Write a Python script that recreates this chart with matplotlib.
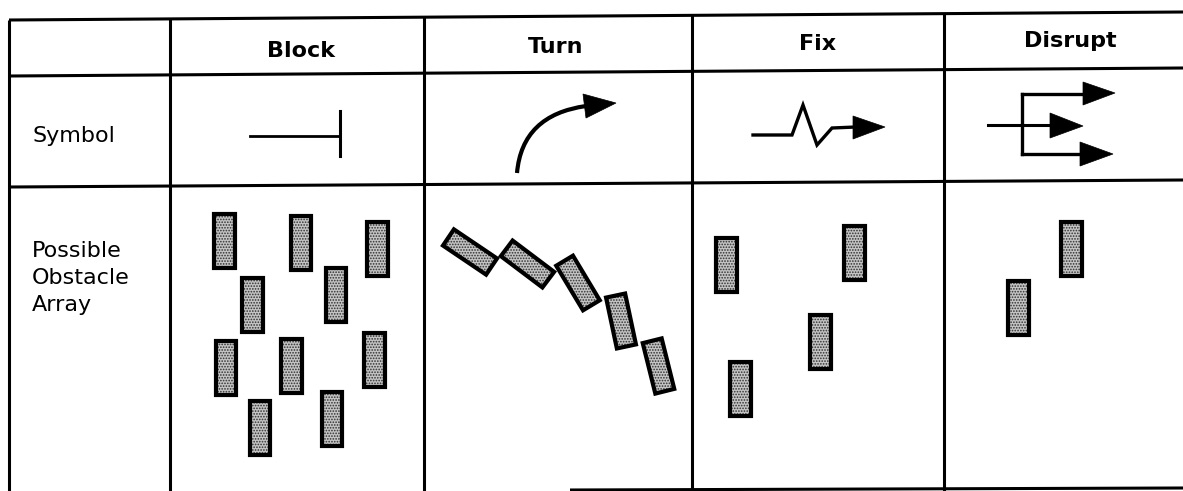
"""Obstacle-array table: Block / Turn / Fix / Disrupt, symbol + example layout."""
import numpy as np
import matplotlib
matplotlib.use("Agg")
import matplotlib.pyplot as plt
from matplotlib.patches import Polygon, PathPatch
from matplotlib.path import Path

# --- content -------------------------------------------------------------
columns = ["Block", "Turn", "Fix", "Disrupt"]
header_x = [301, 556, 818, 1070]
header_base = [57, 53, 50, 47]
row_labels = ["Symbol", "Possible\nObstacle\nArray"]

# obstacle centres (px) and long-axis angle from horizontal (deg, y down)
block_rects = [(224.5, 241), (301, 242.5), (377.5, 248.5), (252.5, 305), (336, 295),
               (226, 368), (291.5, 366), (374.5, 360), (260, 428), (332, 419)]
turn_rects = [(470, 252, 34), (527.5, 264, 37), (578, 283, 59), (621, 321, 78), (658.5, 366, 76)]
fix_rects = [(726.5, 265), (854.5, 252.5), (820.5, 341.5), (740.5, 389)]
disrupt_rects = [(1018.5, 307.5), (1071.5, 248.5)]

# table rules: (x0, y0, x1, y1)
h_rules = [(9, 20, 1183, 12), (9, 76, 1183, 68), (9, 187, 1183, 180), (570, 490, 1183, 488)]
v_rules = [9, 170, 424, 692, 944]

# symbol geometry
fix_zigzag_x = [753, 792, 803, 817, 832, 856]
fix_zigzag_y = [135, 135, 105, 145, 128, 127]

plt.rcParams["hatch.linewidth"] = 0.8

fig = plt.figure(figsize=(11.83, 4.91), dpi=100)
ax = fig.add_axes([0, 0, 1, 1])
ax.set_xlim(0, 1183)
ax.set_ylim(491, 0)
ax.axis("off")

LW = 2.2
for x0, y0, x1, y1 in h_rules:
    ax.plot([x0, x1], [y0, y1], color="black", lw=LW, solid_capstyle="butt")
for x in v_rules:
    ax.plot([x, x], [20 - (x - 9) * 8 / 1174, 491], color="black", lw=LW,
            solid_capstyle="butt")

font = "DejaVu Sans"
for name, x, yb in zip(columns, header_x, header_base):
    ax.text(x, yb, name, ha="center", va="baseline", fontsize=16,
            fontweight="bold", family=font)
ax.text(32, 142, row_labels[0], ha="left", va="baseline", fontsize=16, family=font)
ax.text(32, 241, row_labels[1], ha="left", va="top", fontsize=16, family=font,
        linespacing=1.45, multialignment="left")


def arrowhead(tip, base_top, base_bot):
    ax.add_patch(Polygon([tip, base_top, base_bot], closed=True,
                         facecolor="black", edgecolor="black", lw=0.5))


# Block symbol
ax.plot([250, 340], [136, 136], color="black", lw=2.0)
ax.plot([340, 340], [111, 156], color="black", lw=2.2)

# Turn symbol: curved arrow
curve = Path([(517, 173), (522, 115), (586, 106)], [Path.MOVETO, Path.CURVE3, Path.CURVE3])
ax.add_patch(PathPatch(curve, facecolor="none", edgecolor="black", lw=3.0))
arrowhead((616, 103), (583, 94), (586, 118))

# Fix symbol: zigzag arrow
ax.plot(fix_zigzag_x, fix_zigzag_y, color="black", lw=2.4, solid_joinstyle="miter")
arrowhead((885, 127), (853, 116), (853, 139))

# Disrupt symbol: branching arrows
ax.plot([988, 1052], [125, 125], color="black", lw=2.2)
ax.plot([1022, 1022], [94, 154], color="black", lw=2.4)
ax.plot([1022, 1085], [94, 94], color="black", lw=2.4)
ax.plot([1022, 1082], [154, 154], color="black", lw=2.4)
arrowhead((1115, 93), (1083, 82), (1083, 105))
arrowhead((1083, 126), (1050, 113), (1050, 138))
arrowhead((1113, 154), (1080, 142), (1080, 166))


def obstacle(cx, cy, angle=90.0, length=54.0, width=20.5):
    t = np.deg2rad(angle)
    u = np.array([np.cos(t), np.sin(t)]) * length / 2
    v = np.array([-np.sin(t), np.cos(t)]) * width / 2
    c = np.array([cx, cy])
    pts = [c + u + v, c + u - v, c - u - v, c - u + v]
    ax.add_patch(Polygon(pts, closed=True, facecolor="#c4c4c4", edgecolor="#303030",
                         lw=0, hatch="......"))
    ax.add_patch(Polygon(pts, closed=True, fill=False, edgecolor="black", lw=3.0,
                         joinstyle="miter"))


for cx, cy in block_rects + fix_rects + disrupt_rects:
    obstacle(cx, cy)
for cx, cy, ang in turn_rects:
    obstacle(cx, cy, ang, length=52, width=19.5)

fig.savefig("out.png", dpi=100)
